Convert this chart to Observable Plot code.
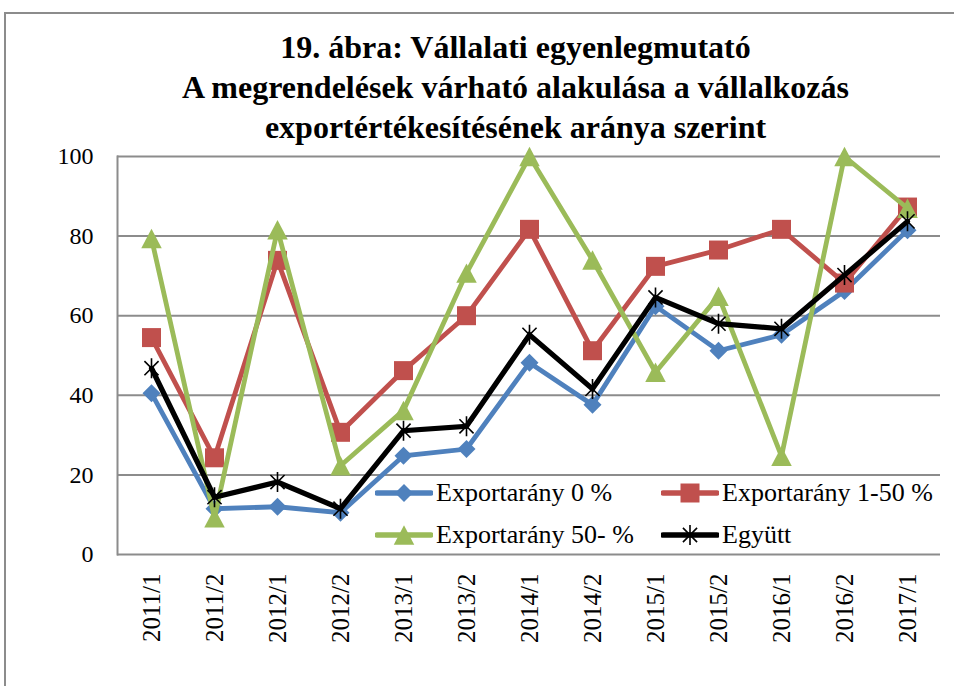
<!DOCTYPE html>
<html>
<head>
<meta charset="utf-8">
<script src="https://cdn.jsdelivr.net/npm/d3@7"></script>
<script src="https://cdn.jsdelivr.net/npm/@observablehq/plot@0.6"></script>
<style>
  html, body { margin: 0; padding: 0; background: #fff; }
  #wrap { position: relative; width: 954px; height: 686px; overflow: hidden; background: #fff; font-family: "Liberation Serif", "Times New Roman", serif; }
  #border { position: absolute; left: 4px; top: 12px; width: 1100px; height: 1000px; border: 2px solid #8c8c8c; box-sizing: border-box; }
  #title { position: absolute; left: 0; width: 1031px; top: 27px; text-align: center; font-weight: bold; font-size: 32px; line-height: 40px; color: #000; }
  #chart { position: absolute; left: 0; top: 0; }
  .leg { position: absolute; display: flex; align-items: center; font-size: 26px; color: #000; white-space: nowrap; height: 30px; }
  .leg svg { margin-right: 3px; }
</style>
</head>
<body>
<div id="wrap">
  <div id="border"></div>
  <div id="chart"></div>
  <div id="title">19. ábra: Vállalati egyenlegmutató<br>A megrendelések várható alakulása a vállalkozás<br>exportértékesítésének aránya szerint</div>
  <div id="legend"></div>
</div>
<script>
const categories = ["2011/1","2011/2","2012/1","2012/2","2013/1","2013/2","2014/1","2014/2","2015/1","2015/2","2016/1","2016/2","2017/1"];
const export0    = [40.5, 11.5, 12.0, 10.5, 24.8, 26.5, 48.2, 37.6, 62.4, 51.2, 55.2, 66.2, 81.5];
const export1_50 = [54.5, 24.3, 73.9, 30.7, 46.2, 60.0, 81.7, 51.2, 72.4, 76.5, 81.7, 68.2, 87.3];
const export50   = [79.4,  9.2, 81.6, 22.3, 36.2, 70.7, 100.0, 74.0, 45.8, 64.9, 24.7, 100.0, 87.0];
const egyutt     = [46.8, 14.4, 18.2, 11.5, 31.1, 32.2, 55.2, 41.6, 64.6, 58.0, 56.7, 70.2, 83.7];
const seriesNames = ["Exportarány 0 %", "Exportarány 1-50 %", "Exportarány 50- %", "Együtt"];
const yTicks = [0, 20, 40, 60, 80, 100];

// custom symbols: size = width^2
const diamondSym = {draw(c, size){ const h = Math.sqrt(size)/2; c.moveTo(0,-h); c.lineTo(h,0); c.lineTo(0,h); c.lineTo(-h,0); c.closePath(); }};
const squareSym  = {draw(c, size){ const h = Math.sqrt(size)/2; c.moveTo(-h,-h); c.lineTo(h,-h); c.lineTo(h,h); c.lineTo(-h,h); c.closePath(); }};
const triSym     = {draw(c, size){ const w = Math.sqrt(size); const h = w*0.95; c.moveTo(0,-h/2); c.lineTo(w/2,h/2); c.lineTo(-w/2,h/2); c.closePath(); }};
const starSym    = {draw(c, size){ const r = Math.sqrt(size)/2; const d = r*0.7071; c.moveTo(0,-r); c.lineTo(0,r); c.moveTo(-d,-d); c.lineTo(d,d); c.moveTo(-d,d); c.lineTo(d,-d); }};
const rFor = w => w / Math.sqrt(Math.PI);

const seriesDefs = [
  {name: seriesNames[0], values: export0,    color: "#4f81bd", sym: diamondSym, w: 18, lw: 4.8},
  {name: seriesNames[1], values: export1_50, color: "#c0504d", sym: squareSym,  w: 19, lw: 4.8},
  {name: seriesNames[2], values: export50,   color: "#9bbb59", sym: triSym,     w: 20.5, lw: 4.8},
  {name: seriesNames[3], values: egyutt,     color: "#000000", sym: starSym,    w: 20, lw: 5.2}
];

const marks = [
  Plot.gridY(yTicks, {stroke: "#8c8c8c", strokeOpacity: 1, strokeWidth: 2}),
  Plot.frame({anchor: "left", stroke: "#8c8c8c", strokeWidth: 2}),
  Plot.axisY(yTicks, {tickSize: 0, tickPadding: 24, fontSize: 24, fill: "#000"}),
  Plot.axisX({tickSize: 0, tickRotate: -90, tickPadding: 19, fontSize: 25, fill: "#000"})
];
for (const s of seriesDefs) {
  const data = categories.map((c, i) => ({cat: c, value: s.values[i]}));
  marks.push(Plot.line(data, {x: "cat", y: "value", stroke: s.color, strokeWidth: s.lw, strokeLinejoin: "miter", strokeMiterlimit: 2}));
  if (s.sym === starSym) {
    marks.push(Plot.dot(data, {x: "cat", y: "value", symbol: s.sym, r: rFor(s.w), fill: "none", stroke: "#000", strokeWidth: 1.6}));
  } else {
    marks.push(Plot.dot(data, {x: "cat", y: "value", symbol: s.sym, r: rFor(s.w), fill: s.color, stroke: "none"}));
  }
}

const chart = Plot.plot({
  width: 954,
  height: 686,
  marginTop: 156,
  marginBottom: 132,
  marginLeft: 117,
  marginRight: 14,
  style: {fontFamily: "Liberation Serif, Times New Roman, serif", fontSize: "24px", color: "#000", background: "transparent"},
  x: {type: "point", domain: categories, padding: 0.5, label: null},
  y: {domain: [0, 100], label: null},
  marks
});
document.getElementById("chart").appendChild(chart);

// legend
const legPos = [
  {x: 375, y: 493}, {x: 661, y: 493}, {x: 375, y: 535}, {x: 661, y: 535}
];
const legend = document.getElementById("legend");
seriesDefs.forEach((s, i) => {
  const p = legPos[i];
  const div = document.createElement("div");
  div.className = "leg";
  div.style.left = p.x + "px";
  div.style.top = (p.y - 15) + "px";
  const ns = "http://www.w3.org/2000/svg";
  const svg = document.createElementNS(ns, "svg");
  svg.setAttribute("width", 58); svg.setAttribute("height", 30);
  const line = document.createElementNS(ns, "line");
  line.setAttribute("x1", 2); line.setAttribute("x2", 56); line.setAttribute("y1", 15); line.setAttribute("y2", 15);
  line.setAttribute("stroke", s.color); line.setAttribute("stroke-width", s.lw + 0.5); line.setAttribute("stroke-linecap", "round");
  svg.appendChild(line);
  const path = d3.path();
  s.sym.draw(path, s.w * s.w);
  const pe = document.createElementNS(ns, "path");
  pe.setAttribute("d", path.toString());
  pe.setAttribute("transform", "translate(29,15)");
  if (s.sym === starSym) { pe.setAttribute("fill", "none"); pe.setAttribute("stroke", "#000"); pe.setAttribute("stroke-width", 1.6); }
  else { pe.setAttribute("fill", s.color); }
  svg.appendChild(pe);
  div.appendChild(svg);
  const span = document.createElement("span");
  span.textContent = s.name;
  div.appendChild(span);
  legend.appendChild(div);
});
</script>
</body>
</html>
